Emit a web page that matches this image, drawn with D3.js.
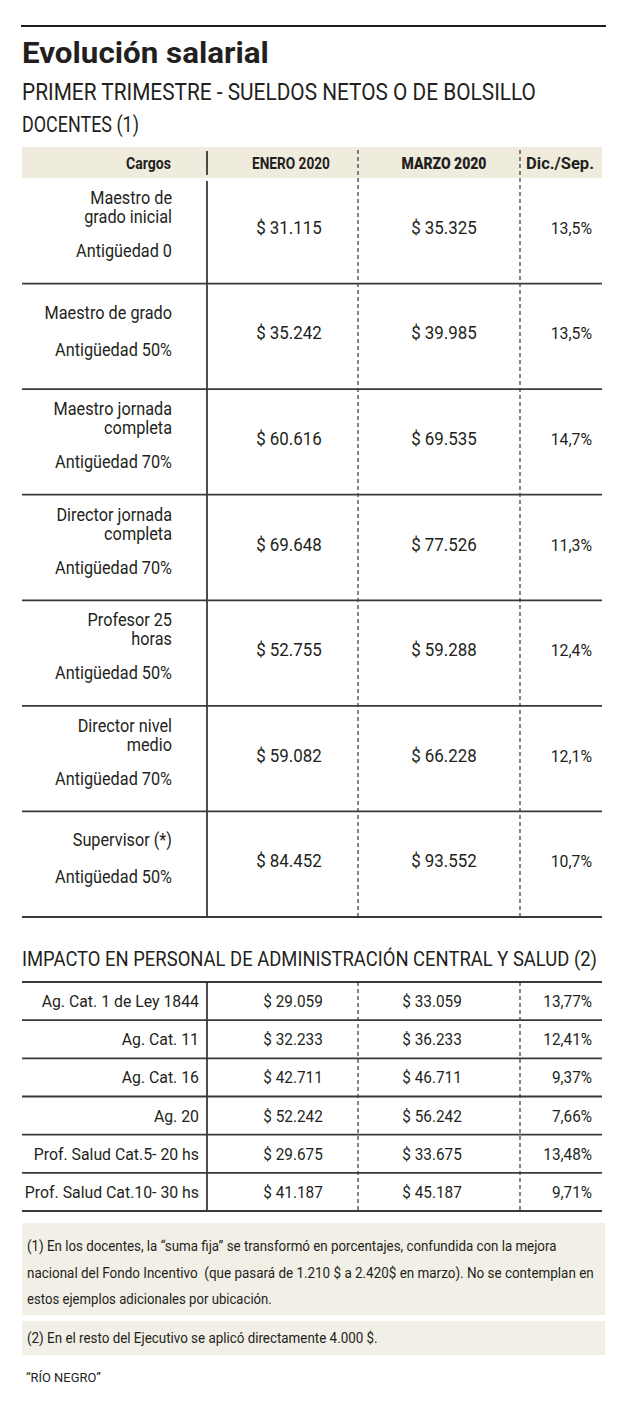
<!DOCTYPE html>
<html>
<head>
<meta charset="utf-8">
<script src="https://cdn.jsdelivr.net/npm/d3@7"></script>
<style>
  body { margin: 0; background: #fff; }
  text { font-family: Roboto, "Liberation Sans", sans-serif; fill: #231f20; white-space: pre; }
</style>
</head>
<body>
<div id="canvas"></div>
<script>
"use strict";

let svgWidth = 620;
let svgHeight = 1407;

/* Data */
let columnas = ["Cargos", "ENERO 2020", "MARZO 2020", "Dic./Sep."];

let cargos = [
  ["Maestro de", "grado inicial"],
  ["Maestro de grado"],
  ["Maestro jornada", "completa"],
  ["Director jornada", "completa"],
  ["Profesor 25", "horas"],
  ["Director nivel", "medio"],
  ["Supervisor (*)"]
];
let antiguedad = ["Antigüedad 0", "Antigüedad 50%", "Antigüedad 70%", "Antigüedad 70%",
  "Antigüedad 50%", "Antigüedad 70%", "Antigüedad 50%"];
let eneroDocentes = [31115, 35242, 60616, 69648, 52755, 59082, 84452];
let marzoDocentes = [35325, 39985, 69535, 77526, 59288, 66228, 93552];
let variacionDocentes = [13.5, 13.5, 14.7, 11.3, 12.4, 12.1, 10.7];

let categorias = ["Ag. Cat. 1 de Ley 1844", "Ag. Cat. 11", "Ag. Cat. 16", "Ag. 20",
  "Prof. Salud Cat.5- 20 hs", "Prof. Salud Cat.10- 30 hs"];
let eneroAdmin = [29059, 32233, 42711, 52242, 29675, 41187];
let marzoAdmin = [33059, 36233, 46711, 56242, 33675, 45187];
let variacionAdmin = [13.77, 12.41, 9.37, 7.66, 13.48, 9.71];

let nota1 = [
  "(1) En los docentes, la \u201csuma fija\u201d se transformó en porcentajes, confundida con la mejora",
  "nacional del Fondo Incentivo  (que pasará de 1.210 $ a 2.420$ en marzo). No se contemplan en",
  "estos ejemplos adicionales por ubicación."
];
let nota2 = "(2) En el resto del Ejecutivo se aplicó directamente 4.000 $.";
let fuente = "\u201cRÍO NEGRO\u201d";

/* Formats */
let locale = d3.formatLocale({ decimal: ",", thousands: ".", grouping: [3], currency: ["$ ", ""] });
let money = locale.format("$,.0f");
let pct1 = v => locale.format(".1f")(v) + "%";
let pct2 = v => locale.format(".2f")(v) + "%";

/* Canvas */
let svg = d3.select("#canvas")
  .append("svg")
  .attr("width", svgWidth)
  .attr("height", svgHeight);

let ink = "#231f20";
let beige = "#efebdd";

// text helper: sx squeezes the glyphs sideways, width squeezes to an exact length
function addText(str, x, y, o) {
  let t = svg.append("text")
    .attr("text-anchor", o.anchor || "start")
    .style("font-size", o.size + "px")
    .style("font-weight", o.weight || 400)
    .text(str);
  let sx = o.sx || 1;
  if (o.width) {
    sx = o.width / t.node().getComputedTextLength();
  }
  t.attr("transform", `translate(${x},${y}) scale(${sx},1)`);
  return t;
}

/* Heading */
svg.append("line")
  .attr("x1", 21).attr("x2", 606)
  .attr("y1", 26).attr("y2", 26)
  .attr("stroke", ink).attr("stroke-width", 2);

addText("Evolución salarial", 22, 63, { size: 30, weight: 700, width: 247 });
addText("PRIMER TRIMESTRE - SUELDOS NETOS O DE BOLSILLO", 22, 100, { size: 23, width: 514 });
addText("DOCENTES (1)", 22, 132, { size: 21.5, width: 117 });

/* Columns */
let left = 22, right = 602;
let solidX = 207;
let dashX = [358, 520];

let xDoc = d3.scaleOrdinal().domain(columnas).range([172, 289, 444, 592]);
let xAdm = d3.scaleOrdinal().domain(columnas).range([199, 293, 432, 592]);
let xHead = d3.scaleOrdinal().domain(columnas).range([171, 291, 444, 560]);

/* Header band */
svg.append("rect")
  .attr("x", left).attr("y", 147)
  .attr("width", right - left).attr("height", 31)
  .attr("fill", beige);

columnas.forEach((c, i) => {
  addText(c, xHead(c), 169, {
    size: 16.5,
    weight: i === 2 ? 900 : 700,
    anchor: i === 0 ? "end" : "middle",
    width: [45, 78, 85, 68][i]
  });
});

/* Docentes table */
let yDoc = d3.scaleBand()
  .domain(d3.range(cargos.length))
  .range([178, 917]);

function verticals(y0, y1, headerSeg) {
  if (headerSeg) {
    svg.append("line")
      .attr("x1", solidX).attr("x2", solidX)
      .attr("y1", 151).attr("y2", 175)
      .attr("stroke", ink).attr("stroke-width", 1.6);
  }
  svg.append("line")
    .attr("x1", solidX).attr("x2", solidX)
    .attr("y1", y0).attr("y2", y1)
    .attr("stroke", ink).attr("stroke-width", 1.6);
  dashX.forEach(x => {
    svg.append("line")
      .attr("x1", x).attr("x2", x)
      .attr("y1", headerSeg ? 150 : y0).attr("y2", y1)
      .attr("stroke", ink).attr("stroke-width", 1.1)
      .attr("stroke-dasharray", "4,3");
  });
}

verticals(181, 917, true);

svg.selectAll("line.doc-row")
  .data(cargos)
  .enter()
  .append("line")
  .classed("doc-row", true)
  .attr("x1", left).attr("x2", right)
  .attr("y1", (d, i) => yDoc(i) + yDoc.bandwidth())
  .attr("y2", (d, i) => yDoc(i) + yDoc.bandwidth())
  .attr("stroke", "#3a3a3a").attr("stroke-width", 1.8);

let lab = { size: 17.5, sx: 0.93, anchor: "end" };

cargos.forEach((lines, i) => {
  let top = yDoc(i);
  if (lines.length === 2) {
    addText(lines[0], xDoc(columnas[0]), top + 26, lab);
    addText(lines[1], xDoc(columnas[0]), top + 45, lab);
    addText(antiguedad[i], xDoc(columnas[0]), top + 79, lab);
  } else {
    addText(lines[0], xDoc(columnas[0]), top + 35, lab);
    addText(antiguedad[i], xDoc(columnas[0]), top + 72, lab);
  }
  let vy = top + yDoc.bandwidth() / 2 + 3;
  addText(money(eneroDocentes[i]), xDoc(columnas[1]), vy, { size: 18, sx: 0.94, anchor: "middle" });
  addText(money(marzoDocentes[i]), xDoc(columnas[2]), vy, { size: 18, sx: 0.94, anchor: "middle" });
  addText(pct1(variacionDocentes[i]), xDoc(columnas[3]), vy, { size: 17, sx: 0.93, anchor: "end" });
});

/* Admin table */
addText("IMPACTO EN PERSONAL DE ADMINISTRACIÓN CENTRAL Y SALUD (2)", 22, 966, { size: 21, width: 575 });

let yAdm = d3.scaleBand()
  .domain(d3.range(categorias.length))
  .range([982, 1211]);

svg.append("line")
  .attr("x1", left).attr("x2", right)
  .attr("y1", 982).attr("y2", 982)
  .attr("stroke", "#3a3a3a").attr("stroke-width", 1.8);

verticals(982, 1211, false);

svg.selectAll("line.adm-row")
  .data(categorias)
  .enter()
  .append("line")
  .classed("adm-row", true)
  .attr("x1", left).attr("x2", right)
  .attr("y1", (d, i) => yAdm(i) + yAdm.bandwidth())
  .attr("y2", (d, i) => yAdm(i) + yAdm.bandwidth())
  .attr("stroke", "#3a3a3a").attr("stroke-width", 1.8);

categorias.forEach((c, i) => {
  let vy = yAdm(i) + yAdm.bandwidth() / 2 + 6;
  addText(c, xAdm(columnas[0]), vy, { size: 16.5, sx: 0.96, anchor: "end" });
  addText(money(eneroAdmin[i]), xAdm(columnas[1]), vy, { size: 16.5, sx: 0.93, anchor: "middle" });
  addText(money(marzoAdmin[i]), xAdm(columnas[2]), vy, { size: 16.5, sx: 0.93, anchor: "middle" });
  addText(pct2(variacionAdmin[i]), xAdm(columnas[3]), vy, { size: 16.5, sx: 0.93, anchor: "end" });
});

/* Notes */
svg.append("rect")
  .attr("x", 22).attr("y", 1223)
  .attr("width", 583).attr("height", 92)
  .attr("fill", "#f2efe6");

svg.append("rect")
  .attr("x", 22).attr("y", 1321)
  .attr("width", 583).attr("height", 34)
  .attr("fill", "#f2efe6");

let notaW = [530, 567, 245];
nota1.forEach((l, i) => {
  addText(l, 27, 1251 + i * 26.7, { size: 15, width: notaW[i] });
});
addText(nota2, 27, 1343, { size: 15, width: 351 });

addText(fuente, 26, 1382, { size: 13.5, width: 75 });
</script>
</body>
</html>
